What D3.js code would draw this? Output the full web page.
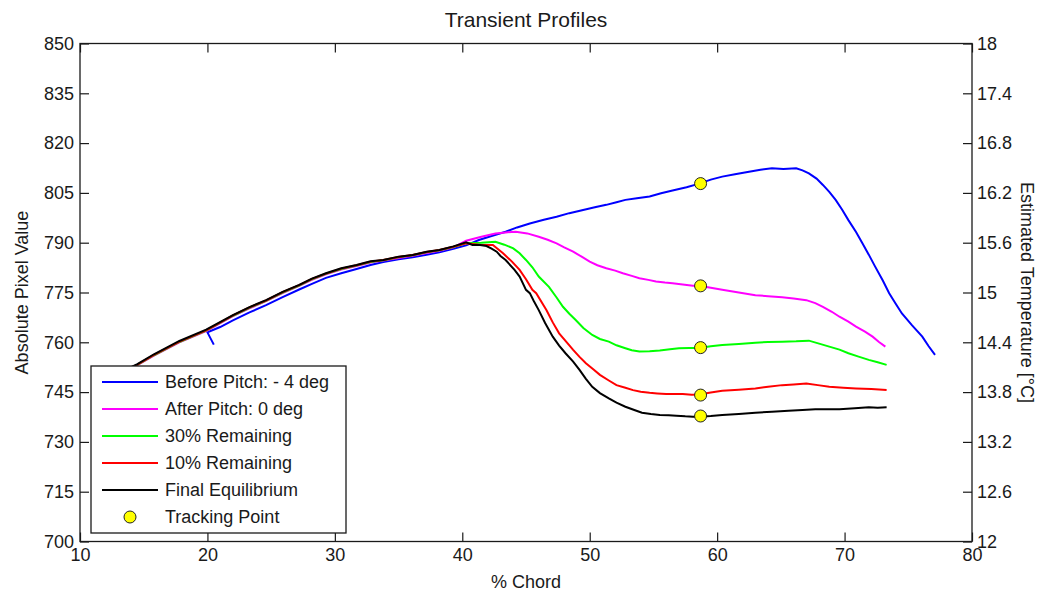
<!DOCTYPE html>
<html>
<head>
<meta charset="utf-8">
<script src="https://cdn.jsdelivr.net/npm/d3@7"></script>
<style>
  html, body { margin: 0; padding: 0; background: #fff; }
  svg { display: block; font-family: Arial, "Liberation Sans", sans-serif; }
</style>
</head>
<body>
<svg id="chart" width="1042" height="594"></svg>
<script>
// Chord positions (% chord) and pixel values for each profile
const beforePitch = [
  [20.5, 759.3], [20.0, 763.0], [21.0, 764.6], [22.0, 766.6], [23.3, 769.0], [24.6, 771.2],
  [25.9, 773.6], [27.2, 775.9], [28.2, 777.6], [29.3, 779.4], [30.5, 780.8], [31.7, 782.1],
  [32.8, 783.3], [33.8, 784.2], [35.0, 785.0], [36.1, 785.6], [37.2, 786.4], [38.2, 787.1],
  [39.3, 788.2], [40.3, 789.2], [41.3, 790.8], [42.3, 792.0], [43.4, 793.3], [44.3, 794.6],
  [45.3, 795.8], [46.4, 796.9], [47.4, 797.8], [48.4, 798.9], [49.4, 799.8], [50.4, 800.7],
  [51.3, 801.4], [52.1, 802.2], [52.8, 802.9], [53.7, 803.4], [54.7, 803.9], [55.6, 804.9],
  [56.5, 805.7], [57.6, 806.7], [58.6, 807.8], [59.5, 809.0], [60.4, 809.9], [61.4, 810.6],
  [62.5, 811.4], [63.4, 812.0], [64.3, 812.4], [65.2, 812.2], [66.2, 812.4], [66.7, 811.8],
  [67.2, 810.9], [67.8, 809.3], [68.3, 807.4], [68.8, 805.3], [69.3, 802.9], [69.8, 800.0],
  [70.3, 796.8], [70.9, 793.2], [71.4, 789.8], [71.9, 786.4], [72.4, 782.8], [73.0, 778.6],
  [73.5, 774.8], [74.0, 771.7], [74.5, 768.7], [75.3, 765.1], [76.1, 761.7], [76.6, 758.8],
  [77.1, 756.2]
];

const afterPitch = [
  [12.0, 748.0], [13.2, 750.6], [14.5, 753.1], [15.8, 756.0], [17.8, 760.0], [19.9, 763.4],
  [22.0, 767.9], [23.3, 770.2], [24.6, 772.4], [25.9, 774.8], [27.2, 777.0], [28.2, 778.8],
  [29.3, 780.5], [30.5, 781.9], [31.7, 783.0], [32.8, 784.0], [33.8, 784.6], [35.0, 785.4],
  [36.1, 786.1], [37.2, 786.9], [38.2, 787.6], [39.3, 788.6], [40.3, 790.6], [41.5, 791.8],
  [42.6, 792.8], [43.4, 793.1], [44.2, 793.3], [45.1, 792.8], [46.0, 791.8], [46.7, 790.9],
  [47.4, 789.8], [48.0, 788.6], [48.7, 787.3], [49.4, 785.7], [50.0, 784.3], [50.6, 783.2],
  [51.3, 782.3], [52.0, 781.6], [52.6, 780.8], [53.3, 780.0], [53.9, 779.3], [54.6, 778.8],
  [55.2, 778.3], [55.9, 778.0], [56.5, 777.8], [57.3, 777.4], [58.1, 777.0], [58.6, 777.0],
  [59.5, 776.4], [60.4, 775.8], [61.7, 775.0], [63.0, 774.2], [64.0, 773.9], [65.1, 773.6],
  [66.0, 773.2], [67.0, 772.7], [67.7, 771.8], [68.3, 770.7], [69.0, 769.2], [69.6, 767.7],
  [70.3, 766.2], [70.9, 764.7], [71.6, 763.2], [72.2, 761.7], [72.7, 760.1], [73.2, 758.7]
];

const remaining30 = [
  [12.0, 748.2], [13.2, 750.8], [14.5, 753.2], [15.8, 756.1], [17.8, 760.1], [19.9, 763.5],
  [22.0, 768.0], [23.3, 770.4], [24.6, 772.5], [25.9, 775.0], [27.2, 777.1], [28.2, 779.0],
  [29.3, 780.6], [30.5, 782.1], [31.7, 783.1], [32.8, 784.2], [33.8, 784.7], [35.0, 785.6],
  [36.1, 786.2], [37.2, 787.1], [38.2, 787.7], [39.3, 788.7], [40.3, 789.8], [41.5, 790.0],
  [42.6, 790.3], [43.3, 789.4], [44.0, 788.3], [44.5, 786.8], [45.0, 784.8], [45.5, 782.6],
  [46.0, 779.8], [46.8, 776.7], [47.4, 773.5], [47.9, 770.7], [48.4, 768.6], [48.9, 766.7],
  [49.5, 764.3], [50.2, 762.2], [50.8, 761.0], [51.5, 760.2], [52.1, 759.1], [52.8, 758.2],
  [53.3, 757.6], [53.9, 757.2], [54.7, 757.3], [55.5, 757.5], [56.3, 757.9], [57.0, 758.2],
  [57.8, 758.3], [58.6, 758.3], [59.5, 758.8], [60.4, 759.2], [61.7, 759.5], [63.0, 759.9],
  [64.0, 760.1], [65.1, 760.2], [66.2, 760.3], [67.2, 760.5], [68.0, 759.6], [68.8, 758.7],
  [69.6, 757.8], [70.3, 756.7], [71.1, 755.7], [71.9, 754.7], [72.6, 754.0], [73.3, 753.2]
];

const remaining10 = [
  [12.0, 748.3], [13.2, 750.9], [14.5, 753.3], [15.8, 756.2], [17.8, 760.2], [19.9, 763.6],
  [22.0, 768.1], [23.3, 770.5], [24.6, 772.6], [25.9, 775.1], [27.2, 777.2], [28.2, 779.1],
  [29.3, 780.7], [30.5, 782.2], [31.7, 783.2], [32.8, 784.3], [33.8, 784.8], [35.0, 785.7],
  [36.1, 786.3], [37.2, 787.2], [38.2, 787.8], [39.3, 788.8], [40.3, 789.8], [41.5, 789.3],
  [42.4, 789.3], [43.2, 786.8], [43.9, 784.3], [44.5, 781.8], [45.0, 779.0], [45.5, 775.8],
  [45.8, 774.8], [46.6, 769.7], [47.1, 766.0], [47.6, 762.7], [48.2, 760.0], [48.7, 757.7],
  [49.2, 755.6], [49.7, 753.7], [50.3, 751.8], [50.8, 750.2], [51.5, 748.5], [52.1, 747.1],
  [52.8, 746.3], [53.4, 745.6], [54.0, 745.1], [54.7, 744.8], [55.3, 744.6], [56.0, 744.4],
  [56.7, 744.4], [57.3, 744.4], [58.0, 744.2], [58.6, 744.3], [59.5, 744.9], [60.4, 745.4],
  [61.7, 745.7], [63.0, 746.1], [64.0, 746.6], [65.1, 747.1], [66.0, 747.3], [67.0, 747.6],
  [67.9, 747.1], [68.8, 746.6], [69.9, 746.3], [70.9, 746.1], [72.1, 745.9], [73.3, 745.6]
];

const finalEquilibrium = [
  [12.0, 748.6], [13.2, 751.1], [14.5, 753.4], [15.8, 756.4], [17.8, 760.4], [19.9, 763.8],
  [22.0, 768.2], [23.3, 770.6], [24.6, 772.7], [25.9, 775.2], [27.2, 777.3], [28.2, 779.2],
  [29.3, 780.8], [30.5, 782.3], [31.7, 783.3], [32.8, 784.4], [33.8, 784.8], [35.0, 785.8],
  [36.1, 786.3], [37.2, 787.3], [38.2, 787.8], [39.3, 788.9], [40.3, 790.1], [40.8, 789.3],
  [41.4, 789.3], [41.9, 789.0], [42.3, 788.2], [42.7, 787.3], [43.0, 786.0], [43.4, 784.8],
  [44.1, 781.8], [44.5, 779.8], [45.0, 775.8], [45.3, 774.8], [45.6, 772.5], [46.0, 769.7],
  [46.5, 765.8], [47.1, 761.7], [47.6, 759.0], [48.1, 756.7], [48.7, 754.2], [49.2, 751.7],
  [49.7, 749.0], [50.2, 746.6], [50.8, 744.7], [51.5, 743.1], [52.1, 741.8], [52.8, 740.6],
  [53.5, 739.6], [54.1, 738.8], [54.8, 738.4], [55.5, 738.1], [56.2, 738.0], [56.8, 737.9],
  [57.5, 737.7], [58.1, 737.6], [58.6, 737.6], [59.5, 737.8], [60.4, 738.1], [61.7, 738.4],
  [63.0, 738.8], [64.3, 739.1], [65.6, 739.4], [66.7, 739.6], [67.7, 739.8], [68.7, 739.8],
  [69.6, 739.8], [70.8, 740.1], [71.9, 740.4], [72.6, 740.3], [73.3, 740.4]
];

// Tracking point sampled on each profile
const trackingChord = 58.7;
const trackingValues = [807.8, 777.0, 758.4, 744.1, 737.8];

// Legend and axis text
const seriesNames = ["Before Pitch: - 4 deg", "After Pitch: 0 deg", "30% Remaining", "10% Remaining", "Final Equilibrium"];
const trackingName = "Tracking Point";
const seriesColors = ["#0000ff", "#ff00ff", "#00ff00", "#ff0000", "#000000"];
const chordTicks = [10, 20, 30, 40, 50, 60, 70, 80];
const pixelTicks = [700, 715, 730, 745, 760, 775, 790, 805, 820, 835, 850];
const tempTicks = [12, 12.6, 13.2, 13.8, 14.4, 15, 15.6, 16.2, 16.8, 17.4, 18];
const titleText = "Transient Profiles";
const xLabel = "% Chord";
const yLabelLeft = "Absolute Pixel Value";
const yLabelRight = "Estimated Temperature [\u00B0C]";

const series = [beforePitch, afterPitch, remaining30, remaining10, finalEquilibrium];

const svg = d3.select("#chart");
const plot = { left: 80, right: 972, top: 43.5, bottom: 541.5 };
const ink = "#1a1a1a";
const fontSize = 18;

const x = d3.scaleLinear().domain([10, 80]).range([plot.left, plot.right]);
const y = d3.scaleLinear().domain([700, 850]).range([plot.bottom, plot.top]);
const yT = d3.scaleLinear().domain([12, 18]).range([plot.bottom, plot.top]);

// Profile lines, clipped to the axes box
svg.append("clipPath").attr("id", "plotClip")
  .append("rect")
  .attr("x", plot.left).attr("y", plot.top)
  .attr("width", plot.right - plot.left).attr("height", plot.bottom - plot.top);

const line = d3.line().x(d => x(d[0])).y(d => y(d[1]));
const lines = svg.append("g").attr("clip-path", "url(#plotClip)");
// plotted in order, so the final equilibrium sits on top
series.forEach((s, i) => {
  lines.append("path")
    .datum(s)
    .attr("d", line)
    .attr("fill", "none")
    .attr("stroke", seriesColors[i])
    .attr("stroke-width", 2)
    .attr("stroke-linejoin", "miter");
});

// Tracking points
lines.selectAll("circle.track")
  .data(trackingValues)
  .join("circle")
  .attr("class", "track")
  .attr("cx", x(trackingChord))
  .attr("cy", d => y(d))
  .attr("r", 6)
  .attr("fill", "#ffff00")
  .attr("stroke", "#222")
  .attr("stroke-width", 1);

// Axes with inward ticks
function styleAxis(g) {
  g.select(".domain").remove();
  g.selectAll(".tick line").attr("stroke", ink).attr("stroke-width", 1.2);
  g.selectAll(".tick text").attr("fill", ink).attr("font-size", fontSize);
}

svg.append("g")
  .attr("transform", `translate(0,${plot.bottom})`)
  .call(d3.axisBottom(x).tickValues(chordTicks).tickSizeInner(-9).tickSizeOuter(0).tickPadding(7).tickFormat(d3.format("d")))
  .call(styleAxis);

svg.append("g")
  .attr("transform", `translate(0,${plot.top})`)
  .call(d3.axisTop(x).tickValues(chordTicks).tickSizeInner(-9).tickSizeOuter(0).tickFormat(""))
  .call(styleAxis);

svg.append("g")
  .attr("transform", `translate(${plot.left},0)`)
  .call(d3.axisLeft(y).tickValues(pixelTicks).tickSizeInner(-9).tickSizeOuter(0).tickPadding(6).tickFormat(d3.format("d")))
  .call(styleAxis);

svg.append("g")
  .attr("transform", `translate(${plot.right},0)`)
  .call(d3.axisRight(yT).tickValues(tempTicks).tickSizeInner(-9).tickSizeOuter(0).tickPadding(5).tickFormat(d3.format("~g")))
  .call(styleAxis);

// Axes box
svg.append("rect")
  .attr("x", plot.left).attr("y", plot.top)
  .attr("width", plot.right - plot.left).attr("height", plot.bottom - plot.top)
  .attr("fill", "none").attr("stroke", ink).attr("stroke-width", 1.3);

// Titles and axis labels
svg.append("text")
  .attr("x", (plot.left + plot.right) / 2).attr("y", 27)
  .attr("text-anchor", "middle").attr("font-size", 21).attr("fill", ink)
  .text(titleText);

svg.append("text")
  .attr("x", (plot.left + plot.right) / 2).attr("y", 588)
  .attr("text-anchor", "middle").attr("font-size", fontSize).attr("fill", ink)
  .text(xLabel);

svg.append("text")
  .attr("transform", `translate(28,${(plot.top + plot.bottom) / 2}) rotate(-90)`)
  .attr("text-anchor", "middle").attr("font-size", fontSize).attr("fill", ink)
  .text(yLabelLeft);

svg.append("text")
  .attr("transform", `translate(1021,${(plot.top + plot.bottom) / 2}) rotate(90)`)
  .attr("text-anchor", "middle").attr("font-size", fontSize).attr("fill", ink)
  .text(yLabelRight);

// Legend
const legend = svg.append("g");
legend.append("rect")
  .attr("x", 91).attr("y", 366).attr("width", 255).attr("height", 167)
  .attr("fill", "#fff").attr("stroke", ink).attr("stroke-width", 1.3);

const rowY = i => 382 + i * 27;
seriesNames.forEach((name, i) => {
  legend.append("line")
    .attr("x1", 102).attr("x2", 158)
    .attr("y1", rowY(i)).attr("y2", rowY(i))
    .attr("stroke", seriesColors[i]).attr("stroke-width", 2);
  legend.append("text")
    .attr("x", 165).attr("y", rowY(i)).attr("dy", "0.35em")
    .attr("font-size", fontSize).attr("fill", ink)
    .text(name);
});
legend.append("circle")
  .attr("cx", 130).attr("cy", rowY(5)).attr("r", 6)
  .attr("fill", "#ffff00").attr("stroke", "#222").attr("stroke-width", 1);
legend.append("text")
  .attr("x", 165).attr("y", rowY(5)).attr("dy", "0.35em")
  .attr("font-size", fontSize).attr("fill", ink)
  .text(trackingName);
</script>
</body>
</html>
